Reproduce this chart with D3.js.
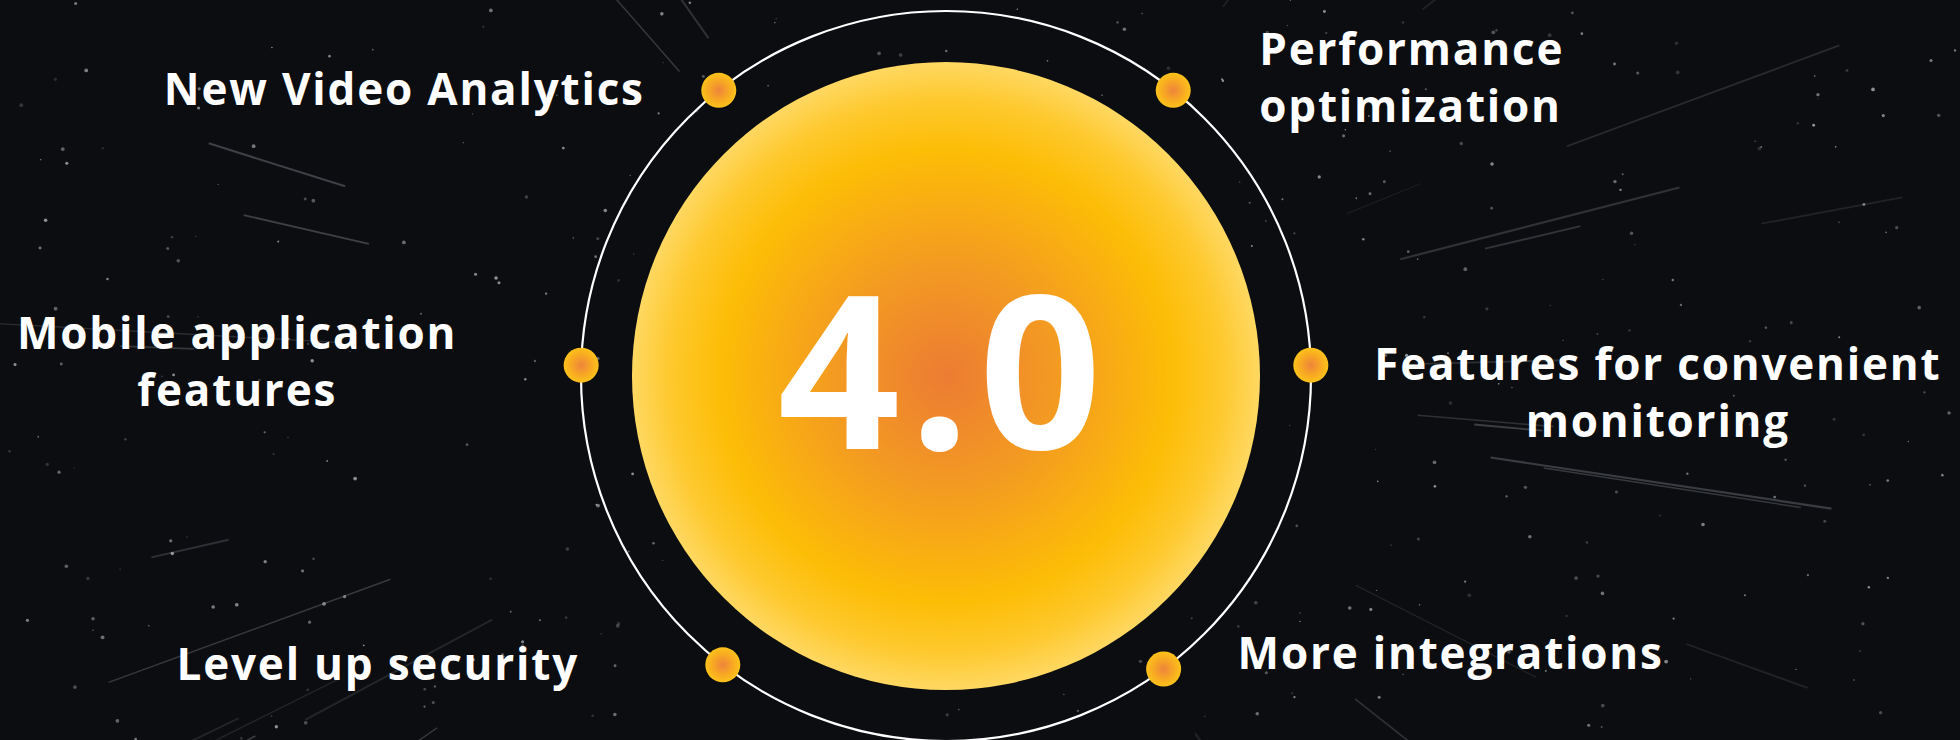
<!DOCTYPE html>
<html>
<head>
<meta charset="utf-8">
<script src="https://cdn.jsdelivr.net/npm/d3@7"></script>
<style>
  html, body { margin: 0; padding: 0; background: #0b0d10; }
  svg { display: block; }
</style>
</head>
<body>
<svg id="chart" width="1960" height="740"></svg>
<script>
// ---- data ----
const version = "4.0";
const features = [
  "New Video Analytics",
  "Performance optimization",
  "Mobile application features",
  "Features for convenient monitoring",
  "Level up security",
  "More integrations"
];
const featureLines = [
  ["New Video Analytics"],
  ["Performance", "optimization"],
  ["Mobile application", "features"],
  ["Features for convenient", "monitoring"],
  ["Level up security"],
  ["More integrations"]
];

// ---- layout (positions / styles, not data) ----
const W = 1960, H = 740;
const cx = 946, cy = 376;
const ringR = 365, coreR = 314, nodeR = 17.5;
const nodeAngles = [-128.5, -51.5, 181.7, -1.7, 127.7, 53.4];
const labelLayout = [
  { anchor: "end",    dx: -74,  dy: 15  },
  { anchor: "start",  dx: 86,   dy: -25 },
  { anchor: "middle", dx: -344, dy: -16 },
  { anchor: "middle", dx: 347,  dy: 15  },
  { anchor: "middle", dx: -345, dy: 15  },
  { anchor: "start",  dx: 74,   dy: 0   }
];
const lineGap = 57;

const svg = d3.select("#chart");
const defs = svg.append("defs");

// gradients
const coreGrad = defs.append("radialGradient").attr("id", "coreGrad")
  .attr("cx", "50%").attr("cy", "50%").attr("r", "50%");
[[0, "#ec7c33"], [0.35, "#f39a22"], [0.72, "#fdbd06"], [0.88, "#fec92e"], [1, "#ffd862"]]
  .forEach(([o, c]) => coreGrad.append("stop").attr("offset", o).attr("stop-color", c));

const nodeGrad = defs.append("radialGradient").attr("id", "nodeGrad")
  .attr("cx", "50%").attr("cy", "50%").attr("r", "50%");
[[0, "#ee843c"], [0.6, "#f8aa22"], [1, "#fcc21a"]]
  .forEach(([o, c]) => nodeGrad.append("stop").attr("offset", o).attr("stop-color", c));

const blur = defs.append("filter").attr("id", "soft").attr("x", "-10%").attr("y", "-10%")
  .attr("width", "120%").attr("height", "120%");
blur.append("feGaussianBlur").attr("stdDeviation", 0.6);

// background
svg.append("rect").attr("width", W).attr("height", H).attr("fill", "#0b0d10");

// decorative star field and streaks (deterministic)
const rng = d3.randomLcg(0.4217);
const bg = svg.append("g").attr("filter", "url(#soft)");
const streakCount = 70;
d3.range(streakCount).forEach(i => {
  const a = rng() * Math.PI * 2;
  const r0 = 380 + rng() * 500;
  const len = 60 + rng() * 320;
  const x1 = cx + Math.cos(a) * r0, y1 = cy + Math.sin(a) * r0;
  const x2 = cx + Math.cos(a) * (r0 + len), y2 = cy + Math.sin(a) * (r0 + len);
  bg.append("line").attr("x1", x1).attr("y1", y1).attr("x2", x2).attr("y2", y2)
    .attr("stroke", "#c8ccd2").attr("stroke-width", 1 + rng() * 1.2)
    .attr("stroke-opacity", 0.08 + rng() * 0.22);
});
d3.range(420).forEach(() => {
  bg.append("circle").attr("cx", rng() * W).attr("cy", rng() * H)
    .attr("r", 0.6 + rng() * 1.3).attr("fill", "#d8dce0")
    .attr("fill-opacity", 0.15 + rng() * 0.5);
});

// ring
svg.append("circle").attr("cx", cx).attr("cy", cy).attr("r", ringR)
  .attr("fill", "none").attr("stroke", "#ffffff").attr("stroke-width", 2.2);

// core
svg.append("circle").attr("cx", cx).attr("cy", cy).attr("r", coreR)
  .attr("fill", "url(#coreGrad)");

svg.append("text").attr("x", cx - 2).attr("y", cy + 73)
  .attr("text-anchor", "middle")
  .attr("font-family", "'Open Sans', sans-serif").attr("font-weight", 700)
  .attr("font-size", 214).attr("letter-spacing", 9)
  .attr("fill", "#ffffff").text(version);

// nodes via angle scale
const angle = d3.scaleOrdinal().domain(features).range(nodeAngles);
const nodes = features.map((f, i) => {
  const a = angle(f) * Math.PI / 180;
  return { name: f, lines: featureLines[i], x: cx + Math.cos(a) * ringR, y: cy + Math.sin(a) * ringR, L: labelLayout[i] };
});

svg.append("g").selectAll("circle").data(nodes).join("circle")
  .attr("cx", d => d.x).attr("cy", d => d.y).attr("r", nodeR)
  .attr("fill", "url(#nodeGrad)");

const labels = svg.append("g").selectAll("text").data(nodes).join("text")
  .attr("text-anchor", d => d.L.anchor)
  .attr("font-family", "'Open Sans', sans-serif").attr("font-weight", 700)
  .attr("font-size", 44).attr("letter-spacing", 1.8)
  .attr("fill", "#ffffff");

labels.each(function(d) {
  d3.select(this).selectAll("tspan").data(d.lines).join("tspan")
    .attr("x", d.x + d.L.dx)
    .attr("y", (l, j) => d.y + d.L.dy + j * lineGap)
    .text(l => l);
});
</script>
</body>
</html>
